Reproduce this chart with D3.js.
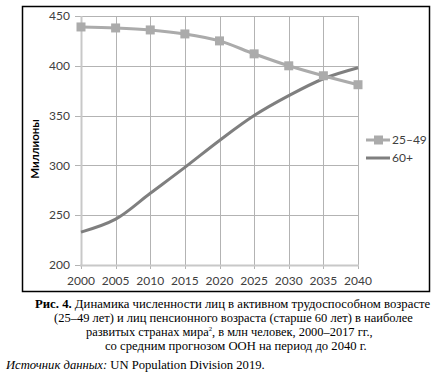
<!DOCTYPE html>
<html>
<head>
<meta charset="utf-8">
<script src="https://cdn.jsdelivr.net/npm/d3@7"></script>
<style>
body{margin:0;background:#fff;}
</style>
</head>
<body>
<script>
var years=[2000,2005,2010,2015,2020,2025,2030,2035,2040];
var working=[439,438,436,432,425,412,400,390,381];   // 25–49
var pension=[233,246,272,298,325,350,370,387,398];   // 60+
var yTicks=[200,250,300,350,400,450];
var seriesNames=["25–49","60+"];
var caption=[
  "Динамика численности лиц в активном трудоспособном возрасте",
  "(25–49 лет) и лиц пенсионного возраста (старше 60 лет) в наиболее",
  "развитых странах мира",
  "со средним прогнозом ООН на период до 2040 г."
];

var w=437, h=377;
var svg=d3.select("body").append("svg").attr("width",w).attr("height",h);

var x=d3.scaleLinear().domain([2000,2040]).range([81,358]);
var y=d3.scaleLinear().domain([200,450]).range([265,16]);

// frame
svg.append("rect").attr("x",22.5).attr("y",6.5).attr("width",407).attr("height",285)
   .attr("fill","none").attr("stroke","#000").attr("stroke-width",1.5);

// grid
svg.append("g").selectAll("line").data(yTicks).enter().append("line")
   .attr("x1",75).attr("x2",358).attr("y1",d=>Math.round(y(d))+0.5).attr("y2",d=>Math.round(y(d))+0.5)
   .attr("stroke","#b3b3b3");
svg.append("g").selectAll("line").data(years).enter().append("line")
   .attr("x1",d=>Math.round(x(d))+0.5).attr("x2",d=>Math.round(x(d))+0.5)
   .attr("y1",16).attr("y2",269)
   .attr("stroke","#b3b3b3");
// axis lines
svg.append("line").attr("x1",81.5).attr("x2",81.5).attr("y1",16).attr("y2",266).attr("stroke","#c8c8c8").attr("stroke-width",2);
svg.append("line").attr("x1",80).attr("x2",359).attr("y1",265.5).attr("y2",265.5).attr("stroke","#c8c8c8").attr("stroke-width",2);

// tick labels
var font="Lato, 'Open Sans', sans-serif";
svg.append("g").selectAll("text").data(yTicks).enter().append("text")
   .attr("x",70).attr("y",d=>y(d)).attr("dy","0.35em").attr("text-anchor","end")
   .attr("font-family",font).attr("font-size",12).attr("fill","#404040").text(d=>d);
svg.append("g").selectAll("text").data(years).enter().append("text")
   .attr("x",d=>x(d)).attr("y",281).attr("dy","0.35em").attr("text-anchor","middle")
   .attr("font-family",font).attr("font-size",12).attr("fill","#404040").text(d=>d);

svg.append("text").attr("transform","translate(35,149) rotate(-90)")
   .attr("text-anchor","middle").attr("dy","0.35em")
   .attr("font-family",font).attr("font-size",11.5).attr("font-weight","bold").attr("fill","#000")
   .text("Миллионы");

var line=d3.line().x((d,i)=>x(years[i])).y(d=>y(d)).curve(d3.curveCatmullRom.alpha(0.5));

svg.append("path").datum(pension).attr("d",line).attr("fill","none")
   .attr("stroke","#7f7f7f").attr("stroke-width",3);
svg.append("path").datum(working).attr("d",line).attr("fill","none")
   .attr("stroke","#ababab").attr("stroke-width",3);
svg.append("g").selectAll("rect").data(working).enter().append("rect")
   .attr("x",(d,i)=>x(years[i])-4.5).attr("y",d=>y(d)-4.5)
   .attr("width",9).attr("height",9).attr("fill","#ababab");

// legend
var leg=svg.append("g");
leg.append("line").attr("x1",366).attr("x2",390).attr("y1",140).attr("y2",140).attr("stroke","#ababab").attr("stroke-width",3);
leg.append("rect").attr("x",374).attr("y",135.5).attr("width",9).attr("height",9).attr("fill","#ababab");
leg.append("line").attr("x1",366).attr("x2",390).attr("y1",158).attr("y2",158).attr("stroke","#7f7f7f").attr("stroke-width",3);
leg.selectAll("text").data(seriesNames).enter().append("text")
   .attr("x",392).attr("y",(d,i)=>140+i*18).attr("dy","0.35em")
   .attr("font-family",font).attr("font-size",12).attr("fill","#404040").text(d=>d);

// caption: serif text, each line squeezed to the width seen in the picture
var serif="Liberation Serif, DejaVu Serif, serif";
var cap=svg.append("g").attr("font-family",serif).attr("font-size",13).attr("fill","#000");
function fit(t,x0,x1){
  var bb=t.node().getBBox();
  var s=(x1-x0)/bb.width;
  t.attr("transform","translate("+x0+",0) scale("+s+",1) translate("+(-bb.x)+",0)");
}
var t1=cap.append("text").attr("y",308);
t1.append("tspan").attr("font-weight","bold").text("Рис. 4. ");
t1.append("tspan").text(caption[0]);
fit(t1,35,431);
var t2=cap.append("text").attr("y",322).text(caption[1]);
fit(t2,54,413);
var t3=cap.append("text").attr("y",336);
t3.append("tspan").text(caption[2]);
t3.append("tspan").attr("font-size",7).attr("dy",-5).text("2");
t3.append("tspan").attr("dy",5).text(", в млн человек, 2000–2017 гг.,");
fit(t3,86,373);
var t4=cap.append("text").attr("y",350).text(caption[3]);
fit(t4,105,367);
var t5=cap.append("text").attr("y",369);
t5.append("tspan").attr("font-style","italic").text("Источник данных: ");
t5.append("tspan").text("UN Population Division 2019.");
fit(t5,5,265);
</script>
</body>
</html>
